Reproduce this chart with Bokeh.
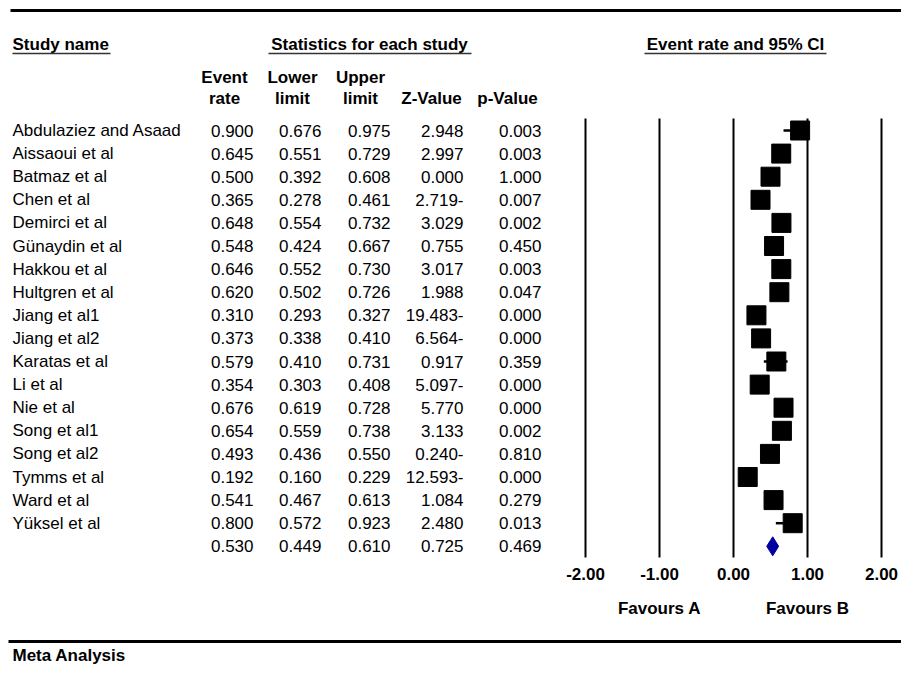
from bokeh.plotting import figure
from bokeh.models import Range1d, ColumnDataSource
from bokeh.embed import file_html
from bokeh.resources import INLINE
from bokeh.core.properties import value

# ---------------- data ----------------
studies = ["Abdulaziez and Asaad", "Aissaoui et al", "Batmaz et al", "Chen et al",
           "Demirci et al", "Günaydin et al", "Hakkou et al", "Hultgren et al",
           "Jiang et al1", "Jiang et al2", "Karatas et al", "Li et al", "Nie et al",
           "Song et al1", "Song et al2", "Tymms et al", "Ward et al", "Yüksel et al"]
event_rate = [0.900, 0.645, 0.500, 0.365, 0.648, 0.548, 0.646, 0.620, 0.310,
              0.373, 0.579, 0.354, 0.676, 0.654, 0.493, 0.192, 0.541, 0.800]
lower_limit = [0.676, 0.551, 0.392, 0.278, 0.554, 0.424, 0.552, 0.502, 0.293,
               0.338, 0.410, 0.303, 0.619, 0.559, 0.436, 0.160, 0.467, 0.572]
upper_limit = [0.975, 0.729, 0.608, 0.461, 0.732, 0.667, 0.730, 0.726, 0.327,
               0.410, 0.731, 0.408, 0.728, 0.738, 0.550, 0.229, 0.613, 0.923]
z_value = ["2.948", "2.997", "0.000", "2.719-", "3.029", "0.755", "3.017", "1.988",
           "19.483-", "6.564-", "0.917", "5.097-", "5.770", "3.133", "0.240-",
           "12.593-", "1.084", "2.480"]
p_value = [0.003, 0.003, 1.000, 0.007, 0.002, 0.450, 0.003, 0.047, 0.000,
           0.000, 0.359, 0.000, 0.000, 0.002, 0.810, 0.000, 0.279, 0.013]

summary_rate = 0.530
summary_lower = 0.449
summary_upper = 0.610
summary_z = "0.725"
summary_p = 0.469

axis_ticks = [-2, -1, 0, 1, 2]
axis_labels = ["-2.00", "-1.00", "0.00", "1.00", "2.00"]
favours = ["Favours A", "Favours B"]
favours_at = [-1, 1]

# ---------------- layout helpers (picture pixels -> plot units) ----------------
X0_PX, PX_PER_UNIT = 733.0, 74.0
Y0_PX, PX_PER_ROW = 130.0, 23.1
W, H = 901, 665


def hx(px):
    return (px - X0_PX) / PX_PER_UNIT


def vy(py):
    return (py - Y0_PX) / PX_PER_ROW


FONT = value("Liberation Sans")

p = figure(width=W, height=H, output_backend="svg", toolbar_location=None,
           x_range=Range1d(hx(0), hx(W)),
           y_range=Range1d(vy(H), vy(0)),
           x_axis_type=None, y_axis_type=None, min_border=0)
p.outline_line_color = None
p.xgrid.visible = False
p.ygrid.visible = False
p.background_fill_color = "white"
p.border_fill_color = "white"

n = len(studies)
rows = list(range(n))
srow = n

# horizontal rules
p.segment(x0=[hx(10)], y0=[vy(10)], x1=[hx(930)], y1=[vy(10)], line_width=3, line_color="black")
p.segment(x0=[hx(8)], y0=[vy(641)], x1=[hx(930)], y1=[vy(641)], line_width=3, line_color="black")


def txt(xs, ys, texts, align="left", bold=False, size="17px", color="black"):
    p.text(x=xs, y=ys, text=texts, text_align=align, text_baseline="middle",
           text_font=FONT, text_font_size=size,
           text_font_style="bold" if bold else "normal", text_color=color)


# group headers with underlines
txt([hx(12)], [vy(44)], ["Study name"], bold=True)
txt([hx(369)], [vy(44)], ["Statistics for each study"], align="center", bold=True)
txt([hx(735)], [vy(44)], ["Event rate and 95% CI"], align="center", bold=True)
p.segment(x0=[hx(12), hx(268), hx(644)], y0=[vy(53)] * 3,
          x1=[hx(110), hx(471), hx(826)], y1=[vy(53)] * 3,
          line_width=1.5, line_color="#333333")

# column headers
txt([hx(224), hx(292), hx(360)], [vy(77)] * 3, ["Event", "Lower", "Upper"], align="center", bold=True)
txt([hx(224), hx(292), hx(360), hx(431), hx(507)], [vy(98)] * 5,
    ["rate", "limit", "limit", "Z-Value", "p-Value"], align="center", bold=True)

# table body
src = ColumnDataSource(dict(
    y=rows, name=studies,
    er=[f"{v:.3f}" for v in event_rate],
    lo=[f"{v:.3f}" for v in lower_limit],
    up=[f"{v:.3f}" for v in upper_limit],
    z=z_value,
    pv=[f"{v:.3f}" for v in p_value],
))
cols = [("name", 12, "left"), ("er", 253, "right"), ("lo", 321, "right"),
        ("up", 390, "right"), ("z", 463, "right"), ("pv", 541, "right")]
for field, xp, al in cols:
    p.text(x=hx(xp), y="y", text=field, source=src, text_align=al, text_baseline="middle",
           text_font=FONT, text_font_size="17px", text_color="black")

sum_vals = [f"{summary_rate:.3f}", f"{summary_lower:.3f}", f"{summary_upper:.3f}",
            summary_z, f"{summary_p:.3f}"]
txt([hx(253), hx(321), hx(390), hx(463), hx(541)], [srow] * 5, sum_vals, align="right")

# forest plot reference lines
p.segment(x0=axis_ticks, y0=[vy(118)] * 5, x1=axis_ticks, y1=[vy(557)] * 5,
          line_width=2, line_color="black")

# CIs and squares
p.segment(x0=lower_limit, y0=rows, x1=upper_limit, y1=rows, line_width=2.5, line_color="black")
p.rect(x=event_rate, y=rows, width=19, height=19, width_units="screen", height_units="screen",
       fill_color="black", line_color="black")

# summary diamond
half = 9.5 / PX_PER_ROW
p.patch(x=[summary_lower, summary_rate, summary_upper, summary_rate],
        y=[srow, srow - half, srow, srow + half],
        fill_color="#0000A0", line_color="#0000A0")

# axis tick labels and favours labels
txt(axis_ticks, [vy(573)] * 5, axis_labels, align="center", bold=True)
txt(favours_at, [vy(608)] * 2, favours, align="center", bold=True)

# footer
txt([hx(12)], [vy(655)], ["Meta Analysis"], bold=True)

open("out.html", "w").write(file_html(p, INLINE))
